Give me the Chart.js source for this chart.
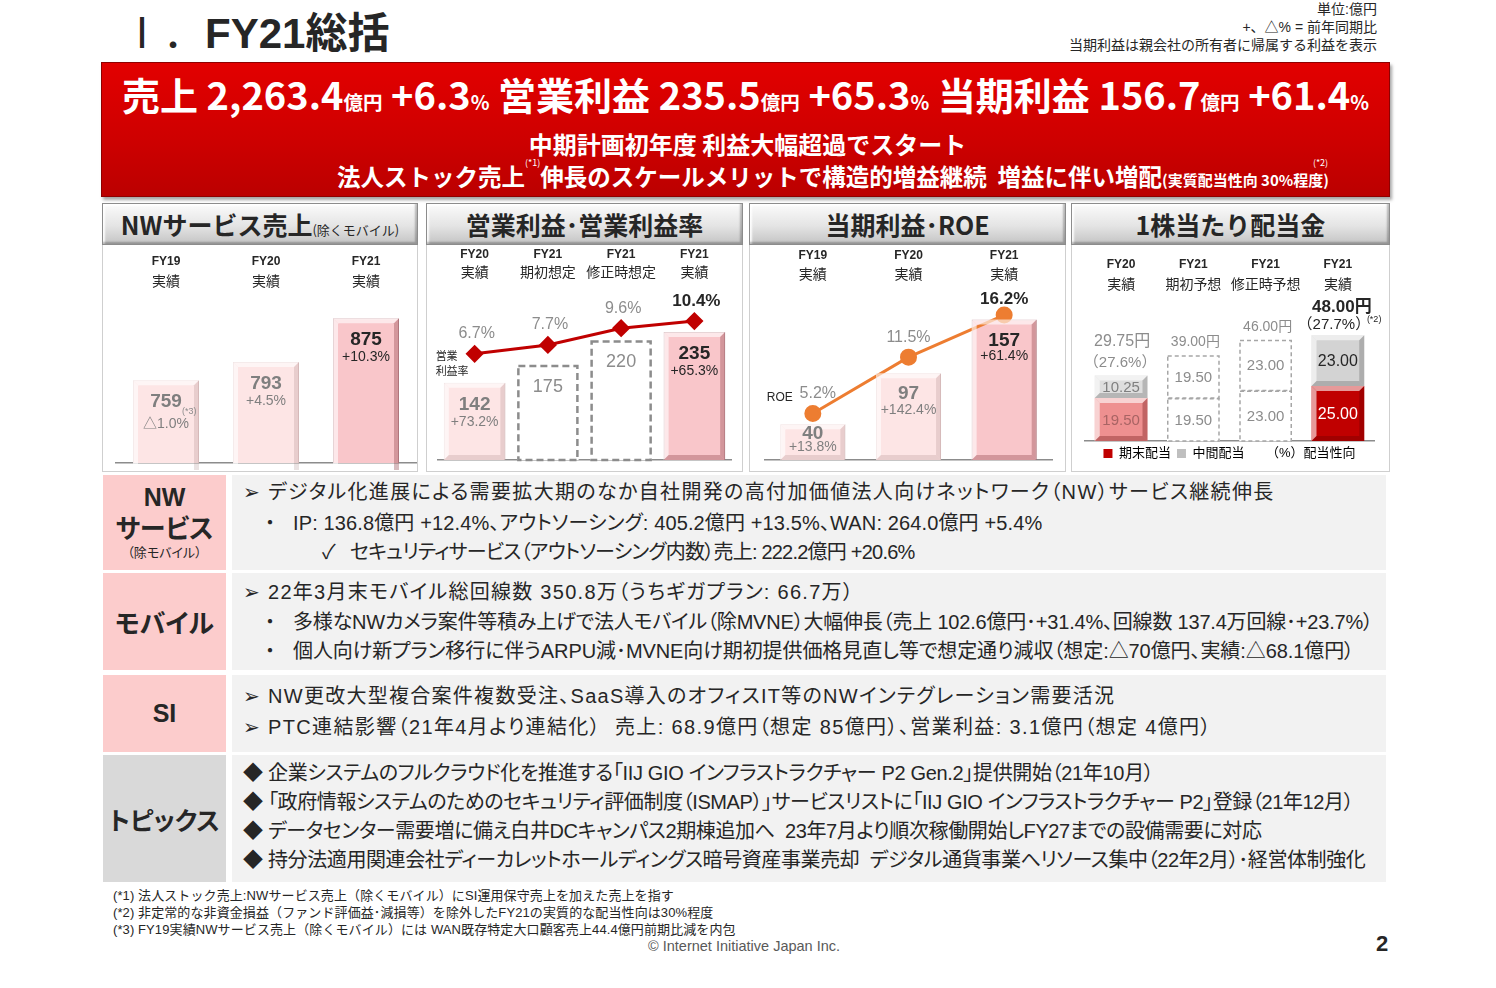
<!DOCTYPE html>
<html lang="ja">
<head>
<meta charset="utf-8">
<title>FY21総括</title>
<script src="https://cdn.jsdelivr.net/npm/chart.js@4.4.1/dist/chart.umd.min.js"></script>
<style>
  body { margin:0; width:1496px; height:988px; background:#fff; position:relative; overflow:hidden;
         font-family:"Liberation Sans","Noto Sans CJK JP",sans-serif; color:#262626; }
  .a { position:absolute; }
  .title { left:121px; top:4px; font-size:42px; line-height:52px; white-space:nowrap; }
  .title b { font-weight:bold; }
  .notes { right:119px; top:0; font-size:14px; line-height:18px; text-align:right; }
  .banner { left:101px; top:62px; width:1287px; height:133px; border:1px solid #8e0000;
            background:linear-gradient(180deg,#e20000 0%,#cf0000 55%,#bb0000 100%);
            box-shadow:2px 3px 3px rgba(0,0,0,0.35); color:#fff; font-family:"Noto Sans CJK JP",sans-serif; font-weight:bold; }
  .b1 { position:absolute; left:0; width:100%; top:7px; text-align:center; font-size:38px; line-height:48px; white-space:nowrap; }
  .b1 small { font-size:19.5px; }
  .b2 { position:absolute; left:0; width:100%; top:65px; text-align:center; font-size:24px; line-height:32px; padding-left:2px; }
  .b3 { position:absolute; left:235px; top:97px; font-size:23.5px; line-height:32px; white-space:nowrap; }
  .b3 sup { font-size:9px; font-weight:normal; vertical-align:top; position:relative; top:-2px; line-height:10px; }
  .b3 small { font-size:15px; }
  .ph { top:203px; height:40px; border:1px solid #8c8c8c; text-align:center; font-weight:bold; font-size:25px; line-height:40px;
        background:linear-gradient(180deg,#fbfbfb 0%,#e4e4e4 55%,#c4c4c4 100%);
        box-shadow:inset -2px -2px 2px rgba(0,0,0,0.25), inset 2px 2px 2px rgba(255,255,255,0.9);
        font-family:"Noto Sans CJK JP",sans-serif; white-space:nowrap; }
  .ph small { font-size:13px; font-weight:normal; }
  .pb { top:245px; height:226px; border:1px solid #cfcfcf; border-top:none; background:#fff; }
  canvas { position:absolute; }
  .lab { display:flex; flex-direction:column; align-items:center; justify-content:center; background:#fccccc;
         font-weight:bold; font-family:"Noto Sans CJK JP",sans-serif; font-feature-settings:"palt"; white-space:nowrap; }
  .box { background:#f2f2f2; font-size:20px; font-feature-settings:"palt"; }
  .ln, .mk { position:absolute; white-space:nowrap; line-height:28px; }
  .foot { left:113px; top:887px; font-size:13px; line-height:17px; letter-spacing:0.1px; white-space:nowrap; }
  .copy { left:648px; top:938px; font-size:14.5px; color:#595959; }
  .pg { left:1376px; top:931px; font-size:22px; font-weight:bold; }
</style>
</head>
<body>

<div class="a title"><span style="font-family:'Noto Sans CJK JP';">Ⅰ．</span><b>FY21総括</b></div>
<div class="a notes">単位:億円<br>+、△% = 前年同期比<br>当期利益は親会社の所有者に帰属する利益を表示</div>

<div class="a banner">
  <div class="b1">売上 2,263.4<small>億円</small> +6.3<small>%</small> 営業利益 235.5<small>億円</small> +65.3<small>%</small> 当期利益 156.7<small>億円</small> +61.4<small>%</small></div>
  <div class="b2">中期計画初年度 利益大幅超過でスタート</div>
  <div class="b3">法人ストック売上<sup>(*1)</sup>伸長のスケールメリットで構造的増益継続&nbsp;&nbsp;増益に伴い増配<small>(実質配当性向 30%程度)</small><sup style="margin-left:-16px;">(*2)</sup></div>
</div>

<div class="a ph" style="left:102px;width:314px;">NWサービス売上<small>(除くモバイル)</small></div>
<div class="a ph" style="left:426px;width:315px;">営業利益･営業利益率</div>
<div class="a ph" style="left:749px;width:315px;">当期利益･ROE</div>
<div class="a ph" style="left:1071px;width:317px;">1株当たり配当金</div>

<div class="a pb" style="left:102px;width:314px;"></div>
<div class="a pb" style="left:426px;width:315px;"></div>
<div class="a pb" style="left:749px;width:315px;"></div>
<div class="a pb" style="left:1071px;width:317px;"></div>

<canvas id="c1" width="314" height="224" style="left:103px;top:246px;"></canvas>
<canvas id="c2" width="313" height="224" style="left:428px;top:246px;"></canvas>
<canvas id="c3" width="313" height="224" style="left:751px;top:246px;"></canvas>
<canvas id="c4" width="316" height="224" style="left:1072px;top:246px;"></canvas>

<!-- NW -->
<div class="a lab" style="left:103px;top:475px;width:123px;height:95px;">
  <div style="font-family:'Liberation Sans';font-size:25px;line-height:27px;">NW</div>
  <div style="font-size:26px;line-height:31px;">サービス</div>
  <div style="font-size:13px;font-weight:normal;line-height:19px;">（除モバイル）</div>
</div>
<div class="a box" style="left:232px;top:475px;width:1154px;height:95px;">
  <div class="mk" style="left:11px;top:3px;">➢</div>
  <div class="ln" style="left:36px;top:3px;letter-spacing:1.35px;">デジタル化進展による需要拡大期のなか自社開発の高付加価値法人向けネットワーク（NW）サービス継続伸長</div>
  <div class="mk" style="left:33px;top:34px;">・</div>
  <div class="ln" style="left:61px;top:34px;letter-spacing:0.13px;">IP: 136.8億円 +12.4%、アウトソーシング: 405.2億円 +13.5%、WAN: 264.0億円 +5.4%</div>
  <div class="mk" style="left:90px;top:63px;">✓</div>
  <div class="ln" style="left:118px;top:63px;letter-spacing:-0.78px;">セキュリティサービス（アウトソーシング内数）売上: 222.2億円 +20.6%</div>
</div>

<!-- Mobile -->
<div class="a lab" style="left:103px;top:573px;width:123px;height:97px;font-size:26px;">モバイル</div>
<div class="a box" style="left:232px;top:573px;width:1154px;height:97px;">
  <div class="mk" style="left:11px;top:5px;">➢</div>
  <div class="ln" style="left:36px;top:5px;letter-spacing:1.28px;">22年3月末モバイル総回線数 350.8万（うちギガプラン: 66.7万）</div>
  <div class="mk" style="left:33px;top:35px;">・</div>
  <div class="ln" style="left:61px;top:35px;letter-spacing:-0.2px;">多様なNWカメラ案件等積み上げで法人モバイル（除MVNE）大幅伸長（売上 102.6億円･+31.4%、回線数 137.4万回線･+23.7%）</div>
  <div class="mk" style="left:33px;top:64px;">・</div>
  <div class="ln" style="left:61px;top:64px;letter-spacing:-0.08px;">個人向け新プラン移行に伴うARPU減･MVNE向け期初提供価格見直し等で想定通り減収（想定:△70億円、実績:△68.1億円）</div>
</div>

<!-- SI -->
<div class="a lab" style="left:103px;top:675px;width:123px;height:77px;font-family:'Liberation Sans';font-size:25px;">SI</div>
<div class="a box" style="left:232px;top:675px;width:1154px;height:77px;">
  <div class="mk" style="left:11px;top:7px;">➢</div>
  <div class="ln" style="left:36px;top:7px;letter-spacing:1.28px;">NW更改大型複合案件複数受注、SaaS導入のオフィスIT等のNWインテグレーション需要活況</div>
  <div class="mk" style="left:11px;top:38px;">➢</div>
  <div class="ln" style="left:36px;top:38px;letter-spacing:1.37px;">PTC連結影響（21年4月より連結化）&nbsp;&nbsp;売上: 68.9億円（想定 85億円）、営業利益: 3.1億円（想定 4億円）</div>
</div>

<!-- Topics -->
<div class="a lab" style="left:103px;top:755px;width:123px;height:127px;background:#d9d9d9;font-size:25px;">トピックス</div>
<div class="a box" style="left:232px;top:755px;width:1154px;height:127px;">
  <div class="mk" style="left:11px;top:4px;">◆</div>
  <div class="ln" style="left:36px;top:4px;letter-spacing:-0.33px;">企業システムのフルクラウド化を推進する「IIJ GIO インフラストラクチャー P2 Gen.2」提供開始（21年10月）</div>
  <div class="mk" style="left:11px;top:33px;">◆</div>
  <div class="ln" style="left:36px;top:33px;letter-spacing:-0.4px;">「政府情報システムのためのセキュリティ評価制度（ISMAP）」サービスリストに「IIJ GIO インフラストラクチャー P2」登録（21年12月）</div>
  <div class="mk" style="left:11px;top:62px;">◆</div>
  <div class="ln" style="left:36px;top:62px;letter-spacing:-0.38px;">データセンター需要増に備え白井DCキャンパス2期棟追加へ&nbsp;&nbsp;23年7月より順次稼働開始しFY27までの設備需要に対応</div>
  <div class="mk" style="left:11px;top:91px;">◆</div>
  <div class="ln" style="left:36px;top:91px;letter-spacing:-0.4px;">持分法適用関連会社ディーカレットホールディングス暗号資産事業売却&nbsp;&nbsp;デジタル通貨事業へリソース集中（22年2月）･経営体制強化</div>
</div>

<div class="a foot">(*1) 法人ストック売上:NWサービス売上（除くモバイル）にSI運用保守売上を加えた売上を指す<br>
(*2) 非定常的な非資金損益（ファンド評価益･減損等）を除外したFY21の実質的な配当性向は30%程度<br>
(*3) FY19実績NWサービス売上（除くモバイル）には WAN既存特定大口顧客売上44.4億円前期比減を内包</div>
<div class="a copy">© Internet Initiative Japan Inc.</div>
<div class="a pg">2</div>

<script>
// ---- NWサービス売上(除くモバイル)
const nwYears = ['FY19', 'FY20', 'FY21'];
const nwStatus = ['実績', '実績', '実績'];
const nwSales = [759, 793, 875];
const nwGrowth = ['△1.0%', '+4.5%', '+10.3%'];
const nwNote = ['(*3)', '', ''];

// ---- 営業利益・営業利益率
const opYears = ['FY20', 'FY21', 'FY21', 'FY21'];
const opStatus = ['実績', '期初想定', '修正時想定', '実績'];
const opProfit = [142, 175, 220, 235];
const opGrowth = ['+73.2%', '', '', '+65.3%'];
const opMargin = [6.7, 7.7, 9.6, 10.4];

// ---- 当期利益・ROE
const niYears = ['FY19', 'FY20', 'FY21'];
const niStatus = ['実績', '実績', '実績'];
const niProfit = [40, 97, 157];
const niGrowth = ['+13.8%', '+142.4%', '+61.4%'];
const roe = [5.2, 11.5, 16.2];

// ---- 1株当たり配当金
const dvYears = ['FY20', 'FY21', 'FY21', 'FY21'];
const dvStatus = ['実績', '期初予想', '修正時予想', '実績'];
const dvYearEnd = [19.50, 19.50, 23.00, 25.00];
const dvInterim = [10.25, 19.50, 23.00, 23.00];
const dvPayout = ['（27.6%）', '', '', '（27.7%）'];
const dvNote = ['', '', '', '(*2)'];

const FONT = '"Liberation Sans","Noto Sans CJK JP",sans-serif';
Chart.defaults.font.family = FONT;
Chart.defaults.animation = false;

const isPlan = s => /想定|予想/.test(s);
const LIGHT = '#fde5e5', DARK = '#f9c6ca';

function txt(ctx, s, x, y, font, color, align) {
  ctx.save();
  ctx.font = font + ' ' + FONT;
  ctx.fillStyle = color;
  ctx.textAlign = align || 'center';
  ctx.textBaseline = 'middle';
  ctx.fillText(s, x, y);
  ctx.restore();
}

function bevel(ctx, b, dark) {
  const p = b.getProps(['x', 'y', 'base', 'width'], true);
  const x0 = p.x - p.width / 2, x1 = p.x + p.width / 2, y0 = Math.min(p.y, p.base), y1 = Math.max(p.y, p.base);
  const e = Math.min(5, (y1 - y0) / 3);
  ctx.save();
  ctx.fillStyle = 'rgba(255,255,255,0.6)';
  ctx.beginPath(); ctx.moveTo(x0, y0); ctx.lineTo(x1, y0); ctx.lineTo(x1 - e, y0 + e); ctx.lineTo(x0 + e, y0 + e); ctx.closePath(); ctx.fill();
  ctx.beginPath(); ctx.moveTo(x0, y0); ctx.lineTo(x0 + e, y0 + e); ctx.lineTo(x0 + e, y1 - e); ctx.lineTo(x0, y1); ctx.closePath(); ctx.fill();
  ctx.fillStyle = dark;
  ctx.beginPath(); ctx.moveTo(x1, y0); ctx.lineTo(x1, y1); ctx.lineTo(x1 - e, y1 - e); ctx.lineTo(x1 - e, y0 + e); ctx.closePath(); ctx.fill();
  ctx.beginPath(); ctx.moveTo(x0, y1); ctx.lineTo(x1, y1); ctx.lineTo(x1 - e, y1 - e); ctx.lineTo(x0 + e, y1 - e); ctx.closePath(); ctx.fill();
  ctx.restore();
}

function dashed(ctx, b, color, lw, dash) {
  const p = b.getProps(['x', 'y', 'base', 'width'], true);
  ctx.save();
  ctx.strokeStyle = color; ctx.lineWidth = lw; ctx.setLineDash(dash);
  ctx.strokeRect(p.x - p.width / 2 + lw / 2, p.y + lw / 2, p.width - lw, p.base - p.y - lw / 2);
  ctx.restore();
}

// two label rows above the plot: year (bold) and status.
// top = plot top, cFy / cSt = wanted label centres (all in canvas-page y)
function headAxes(years, status, top, cFy, cSt) {
  const base = { type: 'category', position: 'top', offset: true,
                 grid: { display: false, drawTicks: false }, border: { display: false } };
  return {
    fy: Object.assign({}, base, { labels: years, weight: 2,
          ticks: { font: { size: 12, weight: 'bold' }, color: '#262626', padding: cSt - 10 - cFy - 7, maxRotation: 0, autoSkip: false },
          afterFit: s => { s.height = cSt - cFy - 1; } }),
    st: Object.assign({}, base, { labels: status, weight: 1,
          ticks: { font: { size: 14 }, color: '#262626', padding: top - cSt - 8, maxRotation: 0, autoSkip: false },
          afterFit: s => { s.height = top - cSt + 10; } })
  };
}

const baseX = { offset: true, grid: { display: false, drawTicks: false }, ticks: { display: false },
                border: { color: '#8c8c8c', width: 1.5 }, afterFit: s => { s.height = 0; } };

const noPlug = { legend: { display: false }, tooltip: { enabled: false } };

// ---------- chart 1
new Chart(document.getElementById('c1'), {
  type: 'bar',
  data: { labels: nwYears, datasets: [{
    xAxisID: 'x', yAxisID: 'y',
    data: nwSales, barPercentage: 0.66, categoryPercentage: 1,
    backgroundColor: c => c.dataIndex === nwSales.length - 1 ? DARK : LIGHT,
    borderColor: c => c.dataIndex === nwSales.length - 1 ? '#c3949a' : '#e6cccc', borderWidth: 1
  }]},
  options: {
    responsive: false, layout: { padding: { top: 262 - 9 - 246, left: 13, right: 1, bottom: 7 } },
    plugins: noPlug,
    scales: Object.assign({ x: baseX, y: { display: false, min: 604, max: 909 } },
                          headAxes(nwYears, nwStatus, 300, 262, 283))
  },
  plugins: [{ id: 'lab1', afterDatasetsDraw(chart) {
    const ctx = chart.ctx;
    chart.getDatasetMeta(0).data.forEach((b, i) => {
      const last = i === nwSales.length - 1;
      bevel(ctx, b, last ? 'rgba(140,60,70,0.35)' : 'rgba(150,110,110,0.2)');
      const col = last ? '#262626' : '#7f7f7f';
      txt(ctx, String(nwSales[i]), b.x, b.y + 22, 'bold 19px', col);
      if (nwNote[i]) txt(ctx, nwNote[i], b.x + 16, b.y + 31, '9px', '#8c8c8c', 'left');
      txt(ctx, nwGrowth[i], b.x, b.y + (nwNote[i] ? 44 : 39), '14px', col);
    });
  }}]
});

// ---------- chart 2
new Chart(document.getElementById('c2'), {
  data: { labels: opYears, datasets: [
    { type: 'line', xAxisID: 'x', yAxisID: 'y2', data: opMargin, order: 0, borderColor: '#c00000', borderWidth: 3,
      pointStyle: 'rectRot', pointRadius: 7, pointBackgroundColor: '#c00000', pointBorderColor: '#c00000' },
    { type: 'bar', xAxisID: 'x', yAxisID: 'y', data: opProfit, order: 1, barPercentage: 0.84, categoryPercentage: 1,
      backgroundColor: c => isPlan(opStatus[c.dataIndex]) ? '#ffffff' : (c.dataIndex === opProfit.length - 1 ? DARK : LIGHT),
      borderColor: c => c.dataIndex === opProfit.length - 1 ? '#c3949a' : '#e6cccc',
      borderWidth: c => isPlan(opStatus[c.dataIndex]) ? 0 : 1 }
  ]},
  options: {
    responsive: false, layout: { padding: { top: 255 - 9 - 246, left: 9, right: 8, bottom: 9 } },
    plugins: noPlug,
    scales: Object.assign({ x: baseX, y: { display: false, min: 0, max: 308.4 }, y2: { display: false, min: -5.3, max: 13.69 } },
                          headAxes(opYears, opStatus, 292, 255, 274))
  },
  plugins: [{ id: 'lab2', afterDatasetsDraw(chart) {
    const ctx = chart.ctx;
    chart.getDatasetMeta(1).data.forEach((b, i) => {
      const last = i === opProfit.length - 1;
      if (isPlan(opStatus[i])) {
        dashed(ctx, b, '#8c8c8c', 2.5, [7, 4]);
        txt(ctx, String(opProfit[i]), b.x, b.y + 22, '18px', '#8c8c8c');
      } else {
        bevel(ctx, b, last ? 'rgba(140,60,70,0.35)' : 'rgba(150,110,110,0.2)');
        const col = last ? '#262626' : '#7f7f7f';
        txt(ctx, String(opProfit[i]), b.x, b.y + 22, 'bold 19px', col);
        txt(ctx, opGrowth[i], b.x, b.y + 39, '14px', col);
      }
    });
    chart.getDatasetMeta(0).data.forEach((p, i) => {
      const last = i === opMargin.length - 1;
      txt(ctx, opMargin[i].toFixed(1) + '%', p.x + 2, p.y - 20, last ? 'bold 17px' : '16px', last ? '#262626' : '#8c8c8c');
      if (i === 0) {
        txt(ctx, '営業', p.x - 39, p.y + 3, '11px', '#262626', 'left');
        txt(ctx, '利益率', p.x - 39, p.y + 18, '11px', '#262626', 'left');
      }
    });
  }}]
});

// ---------- chart 3
new Chart(document.getElementById('c3'), {
  data: { labels: niYears, datasets: [
    { type: 'line', xAxisID: 'x', yAxisID: 'y2', data: roe, order: 0, borderColor: '#ed7d31', borderWidth: 3,
      pointRadius: 7, pointBackgroundColor: '#ed7d31', pointBorderColor: '#ed7d31' },
    { type: 'bar', xAxisID: 'x', yAxisID: 'y', data: niProfit, order: 1, barPercentage: 0.68, categoryPercentage: 1,
      backgroundColor: c => c.dataIndex === niProfit.length - 1 ? DARK : LIGHT,
      borderColor: c => c.dataIndex === niProfit.length - 1 ? '#c3949a' : '#e6cccc', borderWidth: 1 }
  ]},
  options: {
    responsive: false, layout: { padding: { top: 256 - 9 - 246, left: 14, right: 12, bottom: 9 } },
    plugins: noPlug,
    scales: Object.assign({ x: baseX, y: { display: false, min: 0, max: 186.7 }, y2: { display: false, min: 0, max: 18.67 } },
                          headAxes(niYears, niStatus, 293, 256, 276))
  },
  plugins: [{ id: 'lab3', afterDatasetsDraw(chart) {
    const ctx = chart.ctx;
    chart.getDatasetMeta(1).data.forEach((b, i) => {
      const last = i === niProfit.length - 1;
      bevel(ctx, b, last ? 'rgba(140,60,70,0.35)' : 'rgba(150,110,110,0.2)');
      const col = last ? '#262626' : '#7f7f7f';
      const short = b.base - b.y < 60;
      txt(ctx, String(niProfit[i]), b.x, b.y + (short ? 10 : 21), 'bold 19px', col);
      txt(ctx, niGrowth[i], b.x, b.y + (short ? 23 : 37), '14px', col);
    });
    chart.getDatasetMeta(0).data.forEach((p, i) => {
      const last = i === roe.length - 1;
      const dx = i === 0 ? 5 : 0;
      txt(ctx, roe[i].toFixed(1) + '%', p.x + dx, p.y - (last ? 16 : 20), last ? 'bold 17px' : '16px', last ? '#262626' : '#8c8c8c');
      if (i === 0) txt(ctx, 'ROE', p.x - 33, p.y - 16, '12px', '#262626');
    });
  }}]
});

// ---------- chart 4
const dvPlanFill = c => isPlan(dvStatus[c.dataIndex]);
new Chart(document.getElementById('c4'), {
  type: 'bar',
  data: { labels: dvYears, datasets: [
    { label: '期末配当', xAxisID: 'x', yAxisID: 'y', data: dvYearEnd, barPercentage: 0.73, categoryPercentage: 1,
      backgroundColor: c => dvPlanFill(c) ? '#ffffff' : (c.dataIndex === 0 ? '#ee9090' : '#c00000') },
    { label: '中間配当', xAxisID: 'x', yAxisID: 'y', data: dvInterim, barPercentage: 0.73, categoryPercentage: 1,
      backgroundColor: c => dvPlanFill(c) ? '#ffffff' : (c.dataIndex === 0 ? '#dedede' : '#d3d3d3') }
  ]},
  options: {
    responsive: false, layout: { padding: { top: 265 - 9 - 246, left: 13, right: 14, bottom: 0 } },
    plugins: {
      tooltip: { enabled: false },
      legend: { position: 'bottom', labels: {
        font: { size: 13 }, color: '#404040', boxWidth: 9, boxHeight: 9, padding: 6,
        generateLabels: () => [
          { text: '期末配当', fillStyle: '#c00000', strokeStyle: '#c00000', lineWidth: 0 },
          { text: '中間配当', fillStyle: '#bfbfbf', strokeStyle: '#bfbfbf', lineWidth: 0 },
          { text: '（%）配当性向', fillStyle: 'rgba(0,0,0,0)', strokeStyle: 'rgba(0,0,0,0)', lineWidth: 0 }
        ] } }
    },
    scales: Object.assign({ x: Object.assign({}, baseX, { stacked: true }), y: { display: false, stacked: true, min: 0, max: 62.7 } },
                          headAxes(dvYears, dvStatus, 303, 265, 286))
  },
  plugins: [{ id: 'lab4', afterDatasetsDraw(chart) {
    const ctx = chart.ctx;
    const low = chart.getDatasetMeta(0).data, up = chart.getDatasetMeta(1).data;
    dvYears.forEach((_, i) => {
      const last = i === dvYears.length - 1;
      [low[i], up[i]].forEach((b, k) => {
        const v = (k === 0 ? dvYearEnd : dvInterim)[i];
        let col;
        if (isPlan(dvStatus[i])) { dashed(ctx, b, '#a6a6a6', 1.5, [4, 3]); col = '#8c8c8c'; }
        else {
          bevel(ctx, b, k === 0 ? 'rgba(90,0,0,0.3)' : 'rgba(0,0,0,0.18)');
          col = k === 0 ? (last ? '#ffffff' : '#a86464') : (last ? '#262626' : '#7f7f7f');
        }
        txt(ctx, v.toFixed(2), b.x, (b.y + b.base) / 2 + 1, last ? '16px' : '15px', col);
      });
      const top = up[i].y, total = (dvYearEnd[i] + dvInterim[i]).toFixed(2) + '円';
      if (last) {
        txt(ctx, total, up[i].x + 4, top - 28, 'bold 17px', '#262626');
        txt(ctx, dvPayout[i], up[i].x - 4, top - 10, '15px', '#262626');
        txt(ctx, dvNote[i], up[i].x + 29, top - 16, '9px', '#262626', 'left');
      } else if (dvPayout[i]) {
        txt(ctx, total, up[i].x + 1, top - 34, '16px', '#8c8c8c');
        txt(ctx, dvPayout[i], up[i].x - 1, top - 13, '15px', '#8c8c8c');
      } else {
        txt(ctx, total, up[i].x + 2, top - 13, '14px', '#8c8c8c');
      }
    });
  }}]
});
</script>
</body>
</html>
